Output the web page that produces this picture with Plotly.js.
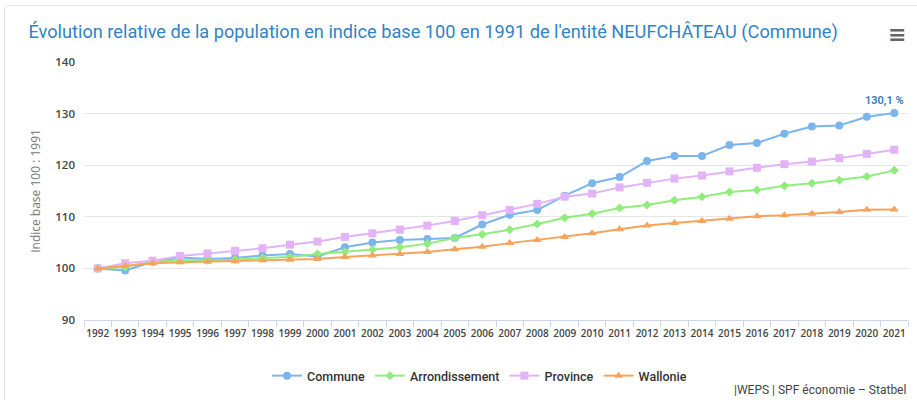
<!DOCTYPE html>
<html>
<head>
<meta charset="utf-8">
<script src="https://cdn.plot.ly/plotly-3.0.1.min.js"></script>
<style>
  html, body { margin: 0; padding: 0; background: #fff; }
  #chart { position: absolute; left: 0; top: 0; width: 917px; height: 400px; }
  #card { position: absolute; left: 4px; top: 5px; width: 930px; height: 420px; border: 1px solid #e4e4e4; border-radius: 3px; pointer-events: none; }
</style>
</head>
<body>
<div id="chart"></div>
<div id="card"></div>
<script>
const years = ["1992","1993","1994","1995","1996","1997","1998","1999","2000","2001","2002","2003","2004","2005","2006","2007","2008","2009","2010","2011","2012","2013","2014","2015","2016","2017","2018","2019","2020","2021"];
const commune = [100, 99.6, 101.3, 102.1, 101.8, 102.0, 102.5, 102.8, 102.3, 104.1, 105.0, 105.5, 105.7, 105.9, 108.5, 110.4, 111.3, 114.1, 116.5, 117.7, 120.8, 121.8, 121.8, 123.9, 124.3, 126.1, 127.5, 127.7, 129.4, 130.1];
const arrondissement = [100, 100.3, 101.3, 101.6, 101.6, 101.7, 102.0, 102.2, 102.8, 103.2, 103.6, 104.1, 104.8, 105.9, 106.6, 107.5, 108.6, 109.8, 110.6, 111.7, 112.3, 113.2, 113.9, 114.8, 115.2, 116.0, 116.5, 117.1, 117.8, 119.0];
const province = [100, 101.0, 101.5, 102.4, 102.9, 103.4, 103.9, 104.6, 105.2, 106.1, 106.8, 107.5, 108.3, 109.2, 110.3, 111.3, 112.5, 113.9, 114.5, 115.7, 116.6, 117.4, 118.0, 118.8, 119.5, 120.2, 120.7, 121.35, 122.2, 123.0];
const wallonie = [100, 100.45, 101.0, 101.2, 101.3, 101.4, 101.6, 101.7, 101.8, 102.2, 102.5, 102.8, 103.2, 103.7, 104.2, 104.9, 105.5, 106.1, 106.8, 107.6, 108.3, 108.8, 109.2, 109.6, 110.1, 110.3, 110.6, 110.95, 111.35, 111.4];
const seriesNames = ["Commune", "Arrondissement", "Province", "Wallonie"];
const lastLabel = "130,1 %";

const colors = ["#7cb5ec", "#90ed7d", "#e2b3f8", "#f7a35c"];
const symbols = ["circle", "diamond", "square", "triangle-up"];
const sizes = [8, 7, 8, 8];
const data = [commune, arrondissement, province, wallonie].map((vals, i) => ({
  type: "scatter",
  mode: "lines+markers",
  name: seriesNames[i],
  x: years,
  y: vals,
  line: { color: colors[i], width: 2 },
  marker: { color: colors[i], symbol: symbols[i], size: sizes[i] },
  hoverinfo: "x+y+name"
}));

const lastIdx = years.length - 1;

const layout = {
  width: 917, height: 400,
  margin: { l: 84, r: 9, t: 62, b: 80 },
  paper_bgcolor: "rgba(0,0,0,0)",
  plot_bgcolor: "rgba(0,0,0,0)",
  font: { family: "Open Sans, sans-serif", color: "#444" },
  title: {
    text: "Évolution relative de la population en indice base 100 en 1991 de l'entité NEUFCHÂTEAU (Commune)",
    font: { family: "Roboto, sans-serif", size: 18.2, color: "#3282c4" },
    x: 0.031, xanchor: "left", y: 0.92, yanchor: "middle"
  },
  xaxis: {
    type: "category",
    tickson: "boundaries",
    ticks: "outside", ticklen: 6, tickcolor: "#ccd6eb", tickwidth: 1,
    showline: true, linecolor: "#ccd6eb", linewidth: 1,
    showgrid: false,
    tickangle: 0,
    ticklabelstandoff: 4,
    automargin: false,
    tickfont: { family: "Open Sans, sans-serif", size: 10, color: "#444", weight: 600 },
    range: [-0.5, 29.5],
    fixedrange: true
  },
  yaxis: {
    range: [90, 140],
    dtick: 10,
    tick0: 90,
    gridcolor: "#e6e6e6",
    gridwidth: 1,
    zeroline: false,
    showline: false,
    ticks: "",
    ticklabelstandoff: 8,
    tickfont: { family: "Open Sans, sans-serif", size: 11.5, color: "#444", weight: 600 },
    title: { text: "Indice base 100 : 1991", font: { family: "Open Sans, sans-serif", size: 12, color: "#777" }, standoff: 12 },
    fixedrange: true
  },
  legend: {
    orientation: "h",
    x: 0.48, xanchor: "center",
    yref: "container",
    y: 0.06, yanchor: "middle",
    font: { family: "Roboto, sans-serif", size: 12.5, color: "#333", weight: 500 },
    itemwidth: 30,
    tracegroupgap: 0
  },
  annotations: [
    {
      xref: "x", yref: "y", x: lastIdx, y: commune[lastIdx],
      text: lastLabel, showarrow: false, yshift: 13, xshift: -10,
      font: { family: "Roboto, sans-serif", size: 11, color: "#3c78b4", weight: 600 }
    },
    {
      xref: "paper", yref: "paper", x: 1.0, y: -0.27, xanchor: "right", yanchor: "middle",
      text: "|WEPS | SPF économie – Statbel", showarrow: false,
      font: { family: "Roboto, sans-serif", size: 12, color: "#444" }
    },
    {
      xref: "paper", yref: "paper", x: 1.0, y: 1.105, xanchor: "right", yanchor: "middle",
      text: "≡", showarrow: false,
      font: { family: "DejaVu Sans, sans-serif", size: 22, color: "#666", weight: 700 }
    }
  ]
};

Plotly.newPlot("chart", data, layout, { displayModeBar: false, responsive: false });
</script>
</body>
</html>
